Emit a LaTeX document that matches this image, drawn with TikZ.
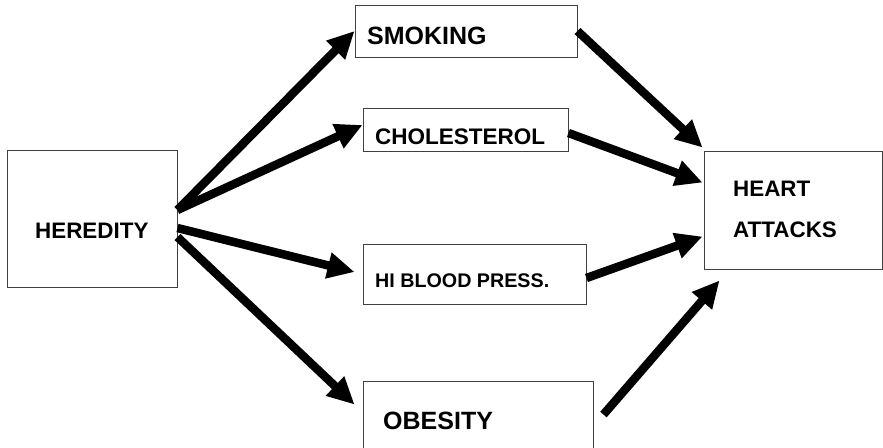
\documentclass[tikz,border=0pt]{standalone}
\usepackage{fontspec}
\setmainfont{Liberation Sans}
\usetikzlibrary{arrows.meta}
\tikzset{
  box/.style={draw=black!75, line width=0.9pt, inner sep=0pt, fill=white},
  lbl/.style={anchor=base west, inner sep=0pt, font=\bfseries},
  conn/.style={line width=8.5pt, -{Triangle[length=27pt,width=25pt]}}
}
\begin{document}
\begin{tikzpicture}[x=1pt,y=-1pt]
\useasboundingbox (0,0) rectangle (883,447);
\clip (0,0) rectangle (883,447);
\fill[white] (0,0) rectangle (883,447);
% boxes
\node[box, minimum width=170pt, minimum height=137pt] (her) at (92,218.5) {};
\node[box, minimum width=222pt, minimum height=52pt] (smk) at (466,31) {};
\node[box, minimum width=205pt, minimum height=43pt] (chol) at (465.5,129.5) {};
\node[box, minimum width=223pt, minimum height=60pt] (hbp) at (474.5,274) {};
\node[box, minimum width=230pt, minimum height=89pt] (obe) at (478,425.5) {};
\node[box, minimum width=178pt, minimum height=118pt] (heart) at (793,210) {};
% labels
\node[lbl, font=\fontsize{22.4}{26}\selectfont\bfseries] (herT) at (35,238) {HEREDITY};
\node[lbl, font=\fontsize{25}{29}\selectfont\bfseries] (smkT) at (367,44) {SMOKING};
\node[lbl, font=\fontsize{22.5}{26}\selectfont\bfseries] (cholT) at (375,144) {CHOLESTEROL};
\node[lbl, font=\fontsize{19.7}{23}\selectfont\bfseries] (hbpT) at (375,287) {HI BLOOD PRESS.};
\node[lbl, font=\fontsize{25}{29}\selectfont\bfseries] (obeT) at (383,429) {OBESITY};
\node[lbl, font=\fontsize{22.4}{26}\selectfont\bfseries] (heartT1) at (733,196) {HEART};
\node[lbl, font=\fontsize{22.4}{26}\selectfont\bfseries] (heartT2) at (733,237) {ATTACKS};
% connectors from heredity
\draw[conn] ([yshift=8.5pt]her.east) -- (smk.west);
\draw[conn] ([yshift=8.5pt]her.east) -- ([yshift=4.5pt]chol.west);
\draw[conn] ([yshift=-9.5pt]her.east) -- ([xshift=-8pt,yshift=2pt]hbp.west);
\draw[conn] ([yshift=-18.5pt]her.east) -- ([xshift=-8pt,yshift=-24pt]obe.north west);
% connectors to heart attacks
\draw[conn] (smk.east) -- ([xshift=-1pt,yshift=3pt]heart.north west);
\draw[conn] ([yshift=-3.5pt]chol.east) -- ([xshift=-1pt,yshift=-32pt]heart.north west);
\draw[conn] ([yshift=-4pt]hbp.east) -- ([xshift=-1pt,yshift=-86pt]heart.north west);
\draw[conn] ([xshift=10pt,yshift=-34pt]obe.north east) -- ([xshift=16pt,yshift=-11pt]heart.south west);
\end{tikzpicture}
\end{document}
